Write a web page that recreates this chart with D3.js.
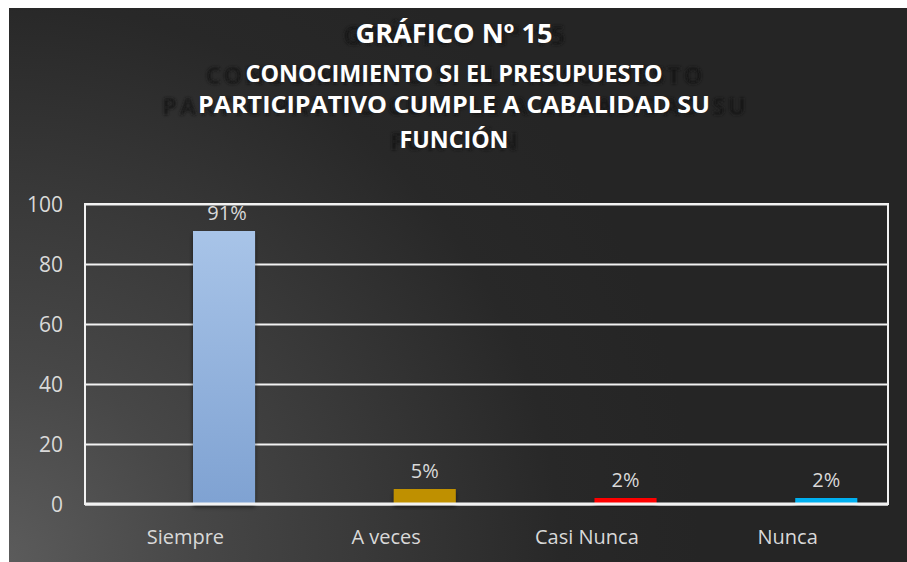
<!DOCTYPE html>
<html><head><meta charset="utf-8">
<script src="https://cdn.jsdelivr.net/npm/d3@7/dist/d3.min.js"></script>
<style>html,body{margin:0;padding:0;background:#fff;}svg{display:block;}</style>
</head><body>
<svg id="c" width="907" height="562"></svg>
<script>
const categories = ["Siempre", "A veces", "Casi Nunca", "Nunca"];
const values = [91, 5, 2, 2];
const valueLabels = ["91%", "5%", "2%", "2%"];
const barColors = ["#98b9e2", "#bf9000", "#ff0000", "#00b0f0"];
const yTicks = [0, 20, 40, 60, 80, 100];
const titleLines = ["GRÁFICO Nº 15", "CONOCIMIENTO SI EL PRESUPUESTO", "PARTICIPATIVO CUMPLE A CABALIDAD SU", "FUNCIÓN"];

const svg = d3.select("#c");
const defs = svg.append("defs");

const bg = defs.append("radialGradient").attr("id","bg")
  .attr("gradientUnits","userSpaceOnUse").attr("cx",0).attr("cy",562).attr("r",700);
[[0,"#5c5c5c"],[0.28,"#474747"],[0.52,"#393939"],[0.8,"#282828"],[1,"#252525"]]
  .forEach(([o,c])=>bg.append("stop").attr("offset",o).attr("stop-color",c));

const bar1 = defs.append("linearGradient").attr("id","bar1").attr("x1",0).attr("y1",0).attr("x2",0).attr("y2",1);
bar1.append("stop").attr("offset",0).attr("stop-color","#a8c4e8");
bar1.append("stop").attr("offset",1).attr("stop-color","#7fa2d2");

const blur = defs.append("filter").attr("id","blur").attr("x","-10%").attr("y","-50%").attr("width","120%").attr("height","200%");
blur.append("feGaussianBlur").attr("stdDeviation",1.6);

const sh = defs.append("filter").attr("id","shadow").attr("x","-20%").attr("y","-20%").attr("width","140%").attr("height","160%");
sh.append("feDropShadow").attr("dx",0).attr("dy",3).attr("stdDeviation",2).attr("flood-color","#000").attr("flood-opacity",0.55);

svg.append("rect").attr("x",9).attr("y",8).attr("width",898).attr("height",554).attr("fill","url(#bg)");

// Title
const titleY = [43, 82, 113, 148];
const titleW = [197, 417, 512, 109];
const ghostW = [222, 497, 584, 128];
const titleSize = [26, 24, 24, 24];
const cx = 454;
titleLines.forEach((t,i)=>{
  svg.append("text").attr("x",cx).attr("y",titleY[i]+2).attr("text-anchor","middle")
    .attr("font-family","Open Sans").attr("font-weight","bold").attr("font-size",titleSize[i])
    .attr("textLength",ghostW[i]).attr("lengthAdjust","spacing")
    .attr("fill","#141414").attr("opacity",0.85).attr("filter","url(#blur)").text(t);
});
titleLines.forEach((t,i)=>{
  svg.append("text").attr("x",cx).attr("y",titleY[i]).attr("text-anchor","middle")
    .attr("font-family","Open Sans").attr("font-weight","bold").attr("font-size",titleSize[i])
    .attr("textLength",titleW[i]).attr("lengthAdjust","spacingAndGlyphs")
    .attr("fill","#ffffff").text(t);
});

// Plot
const L = 85, R = 888, T = 204, B = 504;
const x = d3.scaleBand().domain(categories).range([L, R]).padding(0);
const y = d3.scaleLinear().domain([0, 100]).range([B, T]);

// grid
const grid = svg.append("g").attr("transform",`translate(${L},0)`)
  .call(d3.axisLeft(y).tickValues(yTicks).tickSize(-(R-L)).tickFormat(""));
grid.select(".domain").remove();
grid.selectAll("line").attr("stroke","#f2f2f2").attr("stroke-width",2);

// frame
svg.append("rect").attr("x",L).attr("y",T).attr("width",R-L).attr("height",B-T)
  .attr("fill","none").attr("stroke","#f2f2f2").attr("stroke-width",2);

// y axis labels
const ya = svg.append("g").attr("transform",`translate(${L-22},0)`)
  .call(d3.axisLeft(y).tickValues(yTicks).tickSize(0).tickPadding(0));
ya.select(".domain").remove();
ya.selectAll("text").attr("font-family","Open Sans").attr("font-size",21).attr("fill","#d9d9d9").attr("dy","0.35em");

// bars
const bw = x.bandwidth();
const barOff = bw*0.538, barW = bw*0.309;
svg.append("g").selectAll("rect").data(categories).join("rect")
  .attr("x",(d)=>x(d)+barOff).attr("width",barW)
  .attr("y",(d,i)=>y(values[i])).attr("height",(d,i)=>y(0)-y(values[i]))
  .attr("fill",(d,i)=> i===0 ? "url(#bar1)" : barColors[i])
  .attr("filter","url(#shadow)");

// baseline on top
svg.append("line").attr("x1",L).attr("x2",R).attr("y1",B).attr("y2",B).attr("stroke","#f2f2f2").attr("stroke-width",3);

// value labels
svg.append("g").selectAll("text").data(categories).join("text")
  .attr("x",(d)=>x(d)+barOff+barW/2+(d===categories[0]?3:0)).attr("y",(d,i)=>y(values[i])-11)
  .attr("text-anchor","middle").attr("font-family","Open Sans").attr("font-size",20)
  .attr("fill","#d9d9d9").text((d,i)=>valueLabels[i]);

// x axis labels
const xa = svg.append("g").attr("transform",`translate(0,${B})`)
  .call(d3.axisBottom(x).tickSize(0).tickPadding(0));
xa.select(".domain").remove();
xa.selectAll("text").attr("font-family","Open Sans").attr("font-size",20).attr("fill","#d9d9d9")
  .attr("y",40).attr("dy",0);
</script>
</body></html>
